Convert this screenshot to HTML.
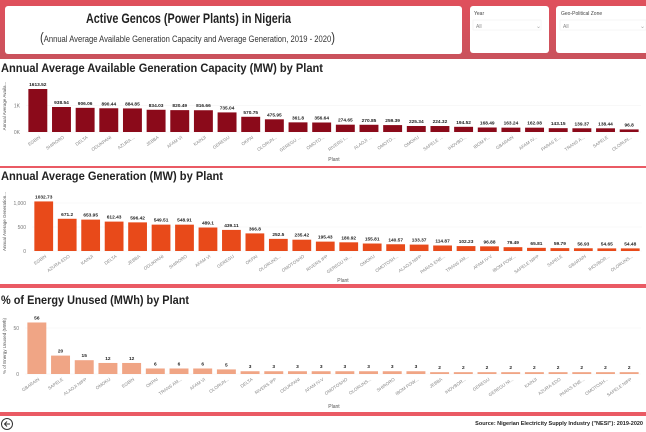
<!DOCTYPE html>
<html><head><meta charset="utf-8"><style>
body{margin:0;width:646px;height:432px;overflow:hidden;background:#fff;font-family:"Liberation Sans",sans-serif}
svg{display:block}
</style></head><body>
<svg id="s" width="646" height="432" viewBox="0 0 646 432" xmlns="http://www.w3.org/2000/svg">
<defs><linearGradient id="hg" x1="0" x2="0" y1="0" y2="1"><stop offset="0" stop-color="#e0505c"/><stop offset="1" stop-color="#c9525c"/></linearGradient></defs>
<rect x="0" y="0" width="646" height="59" fill="url(#hg)"/>
<rect x="5" y="6" width="457" height="48" rx="3" fill="#fff"/>
<text x="86" y="23" font-size="14" font-weight="bold" fill="#222" textLength="205" lengthAdjust="spacingAndGlyphs">Active Gencos (Power Plants) in Nigeria</text>
<text x="40" y="42" font-size="9.5" fill="#333" textLength="295" lengthAdjust="spacingAndGlyphs"><tspan font-size="14">(</tspan>Annual  Average Available Generation Capacity  and Average Generation, 2019 - 2020<tspan font-size="14">)</tspan></text>
<g><rect x="470" y="6" width="79" height="47" rx="3" fill="#fff"/>
<text x="474" y="15" font-size="5" fill="#444">Year</text>
<rect x="473" y="20" width="68" height="10" fill="#fff" stroke="#eee" stroke-width="0.5"/>
<text x="476" y="28" font-size="5" fill="#888">All</text><text x="536" y="28" font-size="6" fill="#aaa">⌄</text></g>
<g><rect x="556" y="6" width="92" height="47" rx="3" fill="#fff"/>
<text x="561" y="15" font-size="5" fill="#444">Geo-Political Zone</text>
<rect x="560" y="20" width="86" height="10" fill="#fff" stroke="#eee" stroke-width="0.5"/>
<text x="563" y="28" font-size="5" fill="#888">All</text><text x="640" y="28" font-size="6" fill="#aaa">⌄</text></g>

<text x="1" y="72" font-size="11.5" font-weight="bold" fill="#222" textLength="322" lengthAdjust="spacingAndGlyphs">Annual Average Available Generation Capacity (MW) by Plant</text>
<rect x="0" y="166" width="646" height="2" fill="#ea5a64"/>
<text x="1" y="180" font-size="11.5" font-weight="bold" fill="#222" textLength="222" lengthAdjust="spacingAndGlyphs">Annual Average Generation (MW) by Plant</text>
<rect x="0" y="284" width="646" height="4" fill="#ea5a64"/>
<text x="1" y="304" font-size="11.5" font-weight="bold" fill="#222" textLength="188" lengthAdjust="spacingAndGlyphs">% of Energy Unused (MWh) by Plant</text>
<rect x="0" y="412" width="646" height="4" fill="#ea5a64"/>
<g><circle cx="7" cy="424" r="5.5" fill="none" stroke="#333" stroke-width="1"/><path d="M10 424H4.5M7 421.5L4.5 424L7 426.5" fill="none" stroke="#333" stroke-width="1"/></g>
<text x="643" y="425" text-anchor="end" font-size="5.5" font-weight="bold" fill="#222">Source: Nigerian Electricity Supply Industry ("NESI"): 2019-2020</text>
<g id="charts"></g>
</svg>
<script>
const cap_plants=["EGBIN","SHIRORO","DELTA","ODUKPANI","AZURA ...","JEBBA","AFAM VI","KAINJI","GEREGU","OKPAI","OLORUN...","GEREGU ...","OMOTO...","RIVERS I...","ALAOJI ...","OMOTO...","OMOKU","SAPELE ...","IHOVBO...","IBOM P...","GBARAIN","AFAM IV...","PARAS E...","TRANS A...","SAPELE","OLORUN..."];
const cap_values=[1613.52,938.54,906.06,890.44,884.85,834.03,820.49,816.66,735.04,570.75,475.95,361.8,356.64,274.65,270.85,259.39,225.34,224.32,194.52,168.49,163.24,162.08,143.15,139.37,138.44,96.8];
const cap_ticks=[0,1000];
const cap_tickLabels=["0K","1K"];
const gen_plants=["EGBIN","AZURA-EDO","KAINJI","DELTA","JEBBA","ODUKPANI","SHIRORO","AFAM VI","GEREGU","OKPAI","OLORUNS...","OMOTOSHO","RIVERS IPP","GEREGU NI...","OMOKU","OMOTOSH...","ALAOJI NIPP","PARAS ENE...","TRANS AM...","AFAM IV-V","IBOM POW...","SAPELE NIPP","SAPELE","GBARAIN","IHOVBOR...","OLORUNS..."];
const gen_values=[1032.73,671.2,653.95,612.43,596.42,549.51,548.91,489.1,439.11,366.8,252.5,235.42,195.43,180.92,155.81,140.57,133.37,114.87,102.23,96.88,79.49,65.81,59.79,56.93,54.65,54.48];
const gen_ticks=[0,500,1000];
const gen_tickLabels=["0","500","1,000"];
const unu_plants=["GBARAIN","SAPELE","ALAOJI NIPP","OMOKU","EGBIN","OKPAI","TRANS AM...","AFAM VI","OLORUN...","DELTA","RIVERS IPP","ODUKPANI","AFAM IV-V","OMOTOSHO","OLORUNS...","SHIRORO","IBOM POW...","JEBBA","IHOVBOR...","GEREGU","GEREGU NI...","KAINJI","AZURA-EDO","PARAS ENE...","OMOTOSH...","SAPELE NIPP"];
const unu_values=[56,20,15,12,12,6,6,6,5,3,3,3,3,3,3,3,3,2,2,2,2,2,2,2,2,2];
const unu_ticks=[0,50];
const unu_tickLabels=["0","50"];

const NS="http://www.w3.org/2000/svg";
const root=document.getElementById('charts');
function mk(tag,attrs,parent){const e=document.createElementNS(NS,tag);for(const k in attrs)e.setAttribute(k,attrs[k]);(parent||root).appendChild(e);return e;}
function chart(o){
  const g=mk('g',{});
  
  
  const n=o.values.length, step=(o.x1-o.x0)/n, bw=step*0.8;
  const y=v=>o.base-v*o.scale;
  const xc=i=>o.x0+step*i+step/2;
  o.ticks.forEach((t,i)=>{
    const gl=mk('line',{x1:o.x0,x2:o.x1,y1:y(t),y2:y(t),stroke:'#f2f2f2','stroke-width':0.5},g);
    
    
    const tl=mk('text',{x:o.x0-6,y:y(t)+2,'text-anchor':'end','font-size':5,fill:'#777'},g);
    tl.textContent=o.tickLabels[i];
    
    
  });
  const yt=mk('text',{transform:`translate(6,${o.base-(o.base-o.top)/2}) rotate(-90)`,'text-anchor':'middle','font-size':4.5,fill:'#555'},g);
  yt.textContent=o.ytitle;
  
  
  const xt=mk('text',{x:o.xtitleX,y:o.xtitleY,'font-size':5,fill:'#555','text-anchor':'middle'},g);
  xt.textContent='Plant';
  
  
  o.values.forEach((v,i)=>{
    const b=mk('rect',{x:xc(i)-bw/2,y:y(v),width:bw,height:Math.max(o.base-y(v),0.5),fill:o.color},g);
    
    
    const vl=mk('text',{x:xc(i),y:y(v)-3,'text-anchor':'middle','font-size':4.8,'font-weight':'bold',fill:'#222'},g);
    vl.textContent=o.fmt(v);
    
    
    const cl=mk('text',{transform:`translate(${xc(i)+3},${o.base+6}) rotate(-35)`,'text-anchor':'end','font-size':4.5,fill:'#888'},g);
    cl.textContent=o.plants[i];
    
    
  });
}
chart({name:'capacity-chart',plants:cap_plants,values:cap_values,ticks:cap_ticks,tickLabels:cap_tickLabels,x0:26,x1:641,base:132,top:80,scale:43/1613.52,color:'#8b0a1a',ytitle:'Annual Average Availa...',xtitleX:334,xtitleY:161,fmt:v=>String(v)});
chart({name:'generation-chart',plants:gen_plants,values:gen_values,ticks:gen_ticks,tickLabels:gen_tickLabels,x0:32,x1:642,base:251,top:192,scale:48/1000,color:'#e84a1a',ytitle:'Annual Average Generation...',xtitleX:343,xtitleY:282,fmt:v=>String(v)});
chart({name:'unused-energy-chart',plants:unu_plants,values:unu_values,ticks:unu_ticks,tickLabels:unu_tickLabels,x0:25,x1:641,base:374,top:318,scale:46/50,color:'#f0a585',ytitle:'% of Energy Unused (MWh)',xtitleX:334,xtitleY:408,fmt:v=>String(v)});
</script>
</body></html>
